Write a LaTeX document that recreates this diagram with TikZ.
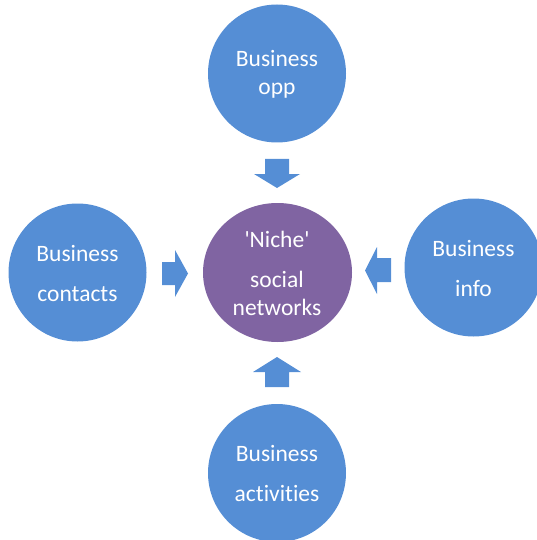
\documentclass[tikz,border=0pt]{standalone}
\usepackage{fontspec}
\setmainfont{Carlito}[Ligatures={TeXOff,NoCommon}]
\definecolor{bubble}{RGB}{85,142,213}
\definecolor{hub}{RGB}{128,100,162}
\begin{document}
\begin{tikzpicture}[x=1pt,y=-1pt,
  bub/.style={circle,fill=bubble,draw=none,minimum size=138pt,inner sep=0pt},
  lbl/.style={anchor=base,text=white,inner sep=0pt,font=\fontsize{23.5pt}{28pt}\selectfont},
  blockarrow/.style={fill=bubble,draw=none}]
\clip (0,0) rectangle (537,540);
\useasboundingbox (0,0) rectangle (537,540);
% circles
\node[bub] (opp) at (277,73.5) {};
\node[bub] (contacts) at (77.5,272.5) {};
\node[bub] (info) at (473.5,267.5) {};
\node[bub] (act) at (277,473) {};
\fill[hub] (277.5,272.5) ellipse [x radius=74.5pt, y radius=69.5pt];
\coordinate (niche) at (277.5,272.5);
% labels
\node[lbl] (t1) at (277,67) {Business};
\node[lbl] (t2) at (277,95) {opp};
\node[lbl] (l1) at (77.5,261) {Business};
\node[lbl] (l2) at (77.5,301) {contacts};
\node[lbl] (r1) at (473.5,256) {Business};
\node[lbl] (r2) at (473.5,296) {info};
\node[lbl] (b1) at (277,461) {Business};
\node[lbl] (b2) at (277,501) {activities};
\node[lbl] (c1) at (277,247) {'Niche'};
\node[lbl] (c2) at (277,287) {social};
\node[lbl] (c3) at (277,315) {networks};
% block arrows
\fill[blockarrow] (265,159) -- (289,159) -- (289,174) -- (300,174) -- (277,188) -- (254,174) -- (265,174) -- cycle;
\fill[blockarrow] (162,262) -- (175,262) -- (175,250) -- (188,273.5) -- (175,297) -- (175,285) -- (162,285) -- cycle;
\fill[blockarrow] (391,258) -- (377,258) -- (377,247) -- (365,270.5) -- (377,294) -- (377,282) -- (391,282) -- cycle;
\fill[blockarrow] (265,387) -- (289,387) -- (289,372) -- (301,372) -- (277,357) -- (253,372) -- (265,372) -- cycle;
\end{tikzpicture}
\end{document}
